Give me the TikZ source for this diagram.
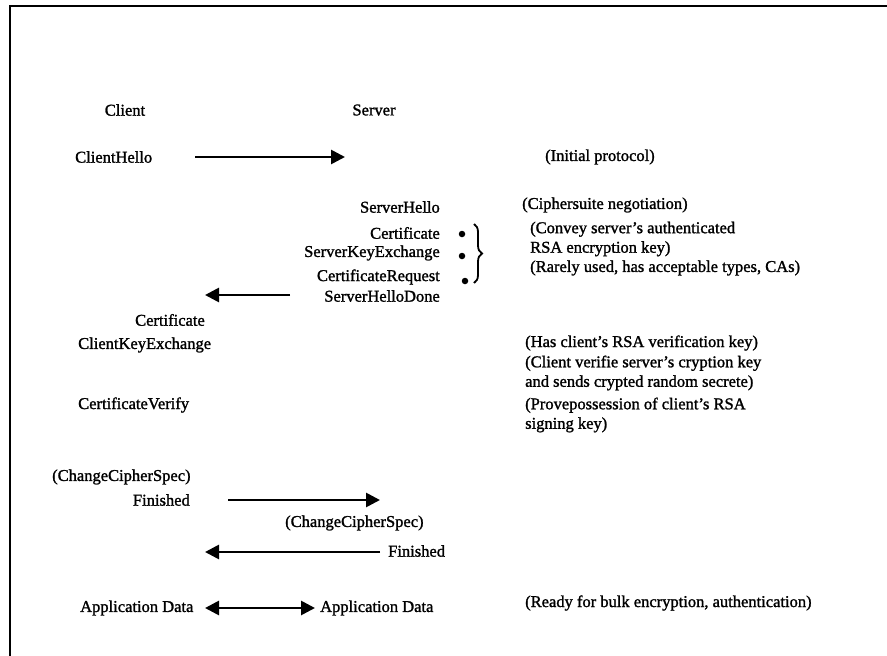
\documentclass[tikz,border=0pt]{standalone}
\usepackage{fontspec}
\setmainfont{Liberation Serif}[FakeBold=1.4]
\usetikzlibrary{arrows.meta,decorations.pathreplacing}

\begin{document}
\begin{tikzpicture}[
        %We work on the pixel grid of the sheet and define some styles
        x=1pt, y=-1pt,
        msg/.style={line width=2.7pt, -{Triangle[length=14pt,width=14pt]}},
        both msg/.style={line width=2.7pt, {Triangle[length=14pt,width=14pt]}-{Triangle[length=14pt,width=14pt]}},
        frame line/.style={line width=2.8pt},
        every node/.style={color=black, inner sep=0pt, font=\fontsize{16.5}{19.5}\selectfont},
        note/.style={anchor=west, align=left},
        dot/.style={circle, fill=black, minimum size=6.5pt}
     ]
\useasboundingbox (0,0) rectangle (887,656);
\begin{scope}
% Important coordinates are defined
    \coordinate (tr) at (887,6);
    \coordinate (tl) at (10,6);
    \coordinate (bl) at (10,656);
    \coordinate (hello a) at (195,157);
    \coordinate (hello b) at (345,157);
    \coordinate (done a) at (290,295);
    \coordinate (done b) at (205,295);
    \coordinate (fin a) at (228,500);
    \coordinate (fin b) at (380,500);
    \coordinate (sfin a) at (380,552);
    \coordinate (sfin b) at (205,552);
    \coordinate (data a) at (205,608);
    \coordinate (data b) at (315,608);

    % frame of the sheet
    \draw[frame line] (tr) -- (tl) -- (bl);

    % the two parties
    \node (client) at (125,110) {Client};
    \node (server) at (374,110) {Server};

    % client side messages
    \node[anchor=west] (chello) at (75,157) {ClientHello};
    \node[anchor=east] (ccert) at (205,320) {Certificate};
    \node[anchor=west] (ckx) at (78,345) {ClientKeyExchange};
    \node[anchor=west] (cverify) at (78,405) {CertificateVerify};
    \node[anchor=west] (cccs) at (52,477) {(ChangeCipherSpec)};
    \node[anchor=east] (cfin) at (190,500) {Finished};
    \node[anchor=west] (cdata) at (80,608) {Application Data};

    % server side messages
    \node[anchor=east] (shello) at (440,207) {ServerHello};
    \node[anchor=east] (scert) at (440,233) {Certificate};
    \node[anchor=east] (skx) at (440,253) {ServerKeyExchange};
    \node[anchor=east] (sreq) at (440,277) {CertificateRequest};
    \node[anchor=east] (sdone) at (440,296) {ServerHelloDone};
    \node[anchor=west] (sccs) at (285,523) {(ChangeCipherSpec)};
    \node[anchor=west] (sfin) at (388,551) {Finished};
    \node[anchor=west] (sdata) at (320,608) {Application Data};

    % dots and brace of the server certificate group
    \node[dot] (d1) at (462,234) {};
    \node[dot] (d2) at (462,256) {};
    \node[dot] (d3) at (465,281) {};
    \coordinate (br a) at (474,224);
    \coordinate (br b) at (474,283);
    \draw[line width=1.8pt, decorate, decoration={brace, amplitude=8pt}] (br a) -- (br b);

    % remarks
    \node[note] (n init) at (545,157) {(Initial protocol)};
    \node[note] (n suite) at (522,205) {(Ciphersuite negotiation)};
    \node[note] (n convey) at (530,239) {(Convey server's authenticated\\RSA encryption key)};
    \node[note] (n rare) at (530,268) {(Rarely used, has acceptable types, CAs)};
    \node[note] (n rsa) at (525,343) {(Has client's RSA verification key)};
    \node[note] (n verif) at (525,373) {(Client verifie server's cryption key\\and sends crypted random secrete)};
    \node[note] (n prove) at (525,415) {(Provepossession of client's RSA\\signing key)};
    \node[note] (n ready) at (525,603) {(Ready for bulk encryption, authentication)};

    % the messages go across
    \draw[msg] (hello a) -- (hello b);
    \draw[msg] (done a) -- (done b);
    \draw[msg] (fin a) -- (fin b);
    \draw[msg] (sfin a) -- (sfin b);
    \draw[both msg] (data a) -- (data b);
\end{scope}
\end{tikzpicture}
\end{document}
